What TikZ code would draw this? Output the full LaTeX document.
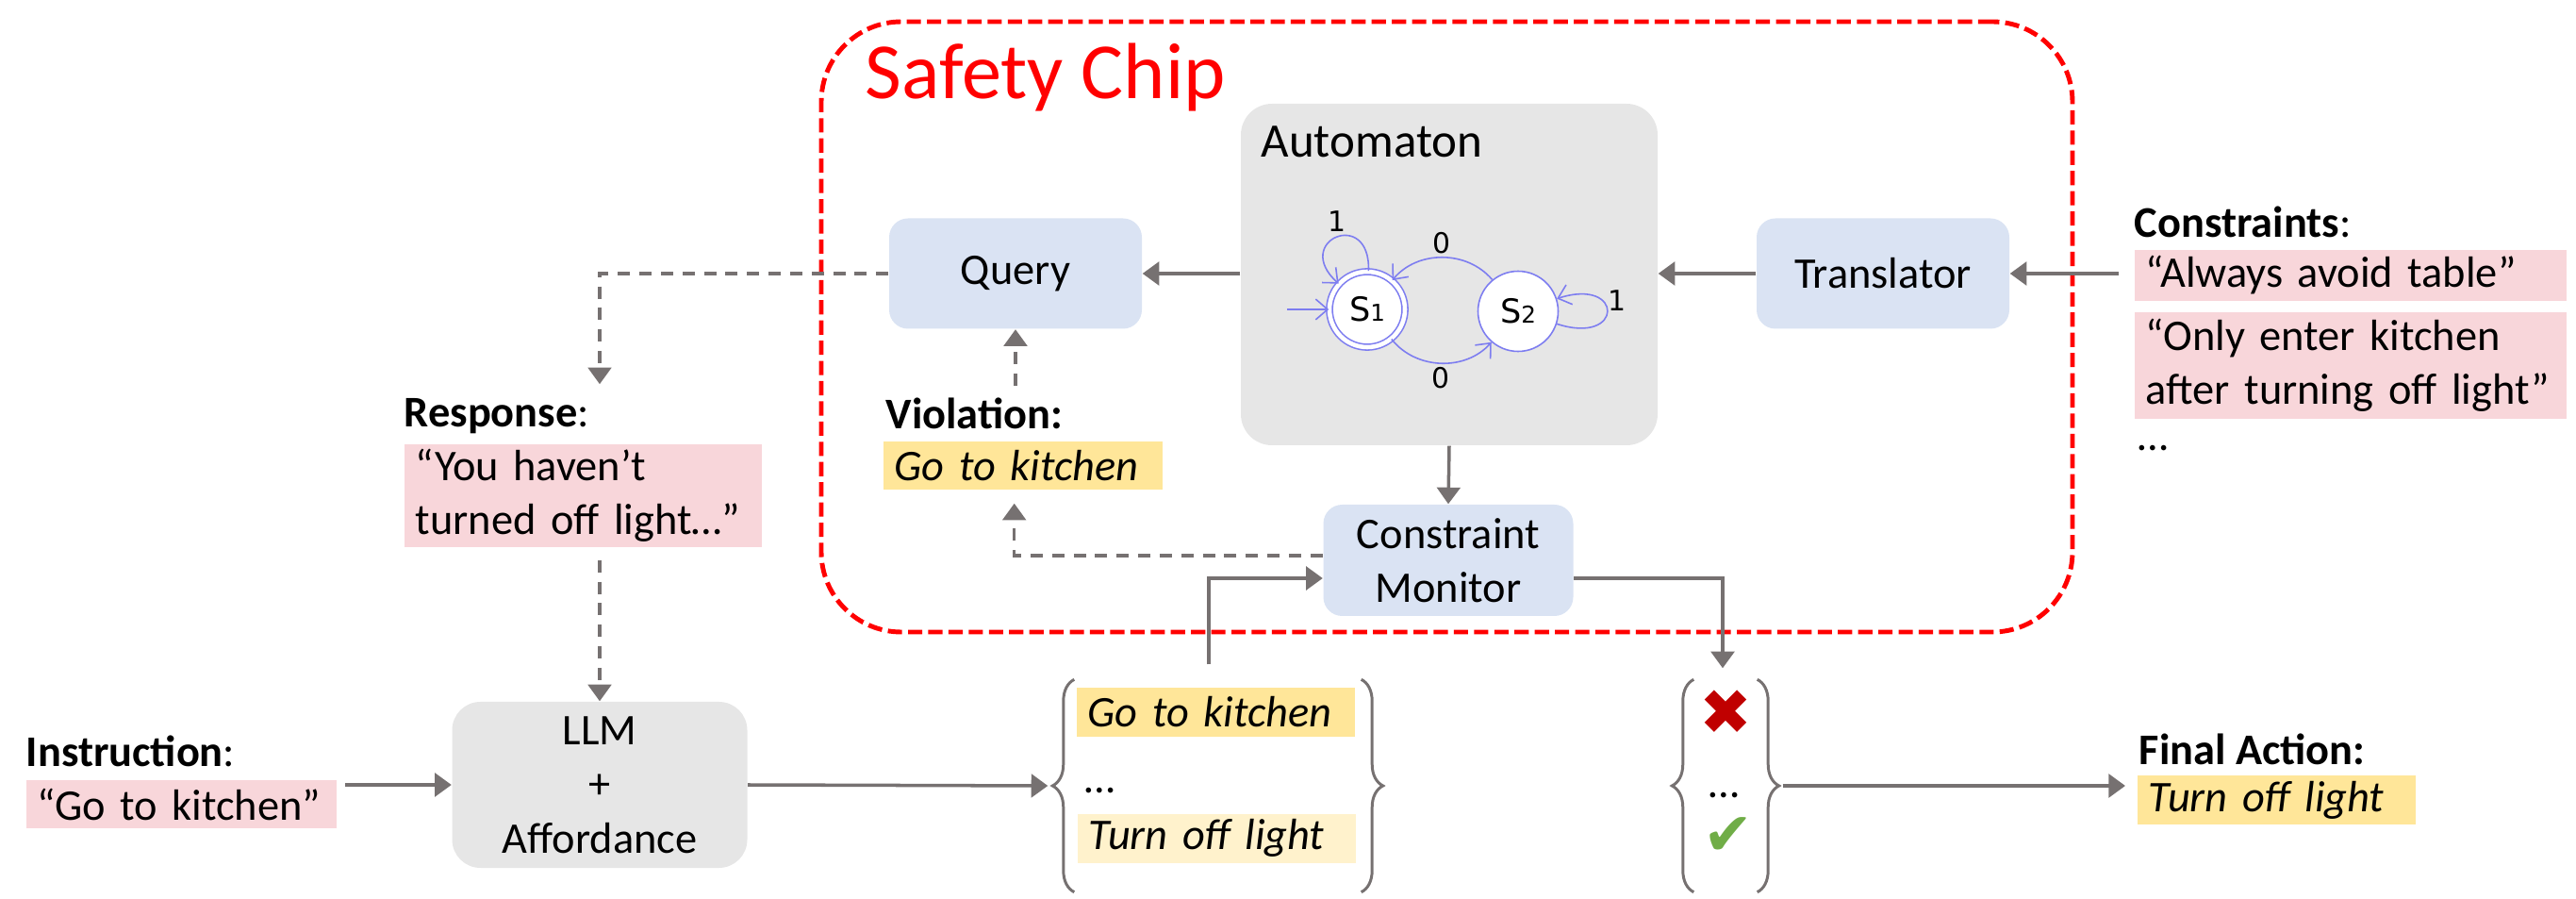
\documentclass[tikz,border=0pt]{standalone}
\usepackage{fontspec}
\setmainfont{Carlito}
\newfontfamily\autofamily{DejaVu Sans}
\newfontfamily\symfamily{DejaVu Sans}
\usetikzlibrary{arrows.meta,positioning,calc,decorations.pathreplacing}
\definecolor{chipred}{RGB}{255,0,0}
\definecolor{boxblue}{RGB}{218,227,243}
\definecolor{boxgray}{RGB}{230,230,230}
\definecolor{quotepink}{RGB}{248,214,218}
\definecolor{actyellow}{RGB}{255,230,153}
\definecolor{actlight}{RGB}{255,242,204}
\definecolor{linegray}{RGB}{118,113,113}
\definecolor{autoblue}{RGB}{125,125,240}
\definecolor{xred}{RGB}{192,0,0}
\definecolor{tickgreen}{RGB}{112,173,71}

\begin{document}
\begin{tikzpicture}[
    font=\fontsize{13.2}{16.3}\selectfont,
    chipbox/.style={rectangle, rounded corners=0.2cm, fill=boxblue, minimum width=2.68cm, minimum height=1.17cm, align=center},
    graybox/.style={rectangle, rounded corners=0.3cm, fill=boxgray, align=center},
    quotebox/.style={rectangle, fill=quotepink, anchor=west, align=left, inner xsep=0.12cm, inner ysep=0pt},
    actbox/.style={quotebox, fill=actyellow, font=\fontsize{13.2}{16.3}\selectfont\itshape},
    heading/.style={anchor=base west, inner sep=0pt},
    autostate/.style={circle, draw=autoblue, fill=white, line width=0.45pt, minimum size=0.85cm, inner sep=0pt, font=\autofamily\fontsize{10}{11}\selectfont},
    finalstate/.style={double=white, double distance=1.3pt, minimum size=0.8cm},
    autoedge/.style={-{Straight Barb[length=3.6pt, width=6.2pt]}, draw=autoblue, line width=0.45pt},
    autolabel/.style={font=\autofamily\fontsize{8.5}{9}\selectfont, inner sep=1pt},
    arrow/.style={-{Triangle[width=7pt, length=5pt]}, draw=linegray, line width=1pt},
    dasharrow/.style={arrow, line width=0.9pt, dash pattern=on 3.7pt off 2.8pt},
    bracket/.style={decorate, decoration={brace, amplitude=0.23cm}, draw=linegray, line width=0.85pt}
]
\useasboundingbox (0, 0) rectangle (27.32, 9.52);

% Safety Chip frame
\node[draw=chipred, line width=1.4pt, dash pattern=on 4.3pt off 1.8pt, rounded corners=0.85cm, minimum width=13.27cm, minimum height=6.47cm] (chip) at (15.345, 6.055) {};
\node[heading, text=chipred, font=\fontsize{24}{28}\selectfont] (chiptitle) at (9.17, 8.47) {Safety Chip};

% Automaton
\node[graybox, rounded corners=0.33cm, minimum width=4.42cm, minimum height=3.62cm] (auto) at (15.37, 6.61) {};
\node[heading, font=\fontsize{14.5}{17}\selectfont] (autotitle) at (13.37, 7.85) {Automaton};
\node[autostate, finalstate] (s1) at (14.50, 6.24) {S{\fontsize{7}{8}\selectfont 1}};
\node[autostate] (s2) at (16.10, 6.22) {S{\fontsize{7}{8}\selectfont 2}};
\coordinate (init) at (13.65, 6.24);
\draw[autoedge] (init) -- (s1);
\draw[autoedge] (s1) to[out=88, in=138, distance=0.68cm] node[autolabel, pos=0.35, above left] {1} (s1);
\draw[autoedge] (s2) to[bend right=50] node[autolabel, above] {0} (s1);
\draw[autoedge] (s1) to[bend right=50] node[autolabel, below] {0} (s2);
\draw[autoedge] (s2) to[out=-18, in=18, distance=0.75cm] node[autolabel, pos=0.5, above right, inner sep=0pt] {1} (s2);

% Chip modules
\node[chipbox] (query) at (10.77, 6.62) {Query};
\node[chipbox] (trans) at (19.97, 6.62) {Translator};
\node[chipbox, minimum width=2.65cm, minimum height=1.18cm] (monitor) at (15.36, 3.58) {Constraint\\Monitor};

% Violation
\node[heading] (viollbl) at (9.39, 4.97) {\textbf{Violation:}};
\node[actbox, minimum height=0.51cm, text width=2.72cm] (viol) at (9.36, 4.585) {Go to kitchen};

% Constraints
\node[heading] (conslbl) at (22.63, 7.00) {\textbf{Constraints}:};
\node[quotebox, minimum height=0.54cm, text width=4.34cm] (cons1) at (22.63, 6.60) {“Always avoid table”};
\node[quotebox, minimum height=1.13cm, text width=4.34cm] (cons2) at (22.63, 5.645) {“Only enter kitchen\\after turning off light”};
\node[heading] (consdots) at (22.67, 4.74) {…};

% Response
\node[heading] (resplbl) at (4.28, 4.99) {\textbf{Response}:};
\node[quotebox, minimum height=1.09cm, text width=3.55cm] (resp) at (4.28, 4.265) {“You haven’t\\turned off light…”};

% Instruction and planner
\node[heading] (instlbl) at (0.27, 1.39) {\textbf{Instruction}:};
\node[quotebox, minimum height=0.51cm, text width=3.05cm] (inst) at (0.27, 0.995) {“Go to kitchen”};
\node[graybox, minimum width=3.13cm, minimum height=1.76cm] (llm) at (6.36, 1.20) {LLM\\+\\Affordance};

% Candidate actions
\node[minimum width=3.03cm, minimum height=2.24cm] (list1) at (12.915, 1.19) {};
\node[actbox, minimum height=0.52cm, text width=2.71cm] (cand1) at (11.41, 1.97) {Go to kitchen};
\node[heading] (canddots) at (11.50, 1.12) {…};
\node[actbox, fill=actlight, minimum height=0.52cm, text width=2.71cm] (cand2) at (11.42, 0.635) {Turn off light};
\draw[bracket] (list1.south west) -- (list1.north west);
\draw[bracket] (list1.north east) -- (list1.south east);

% Verdicts
\node[minimum width=0.66cm, minimum height=2.24cm] (list2) at (18.30, 1.19) {};
\node[text=xred, font=\symfamily\fontsize{19}{21}\selectfont] (cross) at (18.30, 1.97) {✖};
\node[heading] (verdots) at (18.12, 1.06) {…};
\node[text=tickgreen, font=\symfamily\fontsize{18}{20}\selectfont] (tick) at (18.33, 0.65) {✔};
\draw[bracket] (list2.south west) -- (list2.north west);
\draw[bracket] (list2.north east) -- (list2.south east);

% Final action
\node[heading] (finallbl) at (22.68, 1.42) {\textbf{Final Action:}};
\node[actbox, minimum height=0.52cm, text width=2.71cm] (final) at (22.66, 1.04) {Turn off light};

% Arrows - main pipeline
\draw[arrow] ($(inst.east |- llm.west)+(0.09,0)$) -- (llm.west);
\draw[arrow] (llm.east) -- ($(list1.west)+(-0.28,0)$);
\draw[arrow] ($(list1.north)+(-0.095,0.16)$) |- ($(monitor.west)+(0,-0.19)$);
\draw[arrow] ($(monitor.east)+(0,-0.19)$) -| ($(list2.north)+(-0.03,0.12)$);
\draw[arrow] ($(list2.east)+(0.27,0)$) -- ($(final.west |- list2.east)+(-0.12,0)$);

% Arrows - inside the chip
\draw[arrow] (auto.west |- query.east) -- (query.east);
\draw[arrow] (trans.west) -- (auto.east |- trans.west);
\draw[arrow] ($(trans.east -| cons1.west)+(-0.16,0)$) -- (trans.east);
\draw[arrow] (auto.south) -- (monitor.north);

% Arrows - feedback
\draw[dasharrow] (query.west) -| ($(llm.north |- resplbl.north)+(0,0.15)$);
\draw[dasharrow] ($(llm.north |- resp.south)+(0,-0.13)$) -- (llm.north);
\draw[dasharrow] ($(query.south |- viollbl.north)+(0,0.13)$) -- (query.south);
\draw[dasharrow] ($(monitor.west)+(0,0.05)$) -| ($(viol.south)+(-0.09,-0.14)$);

\end{tikzpicture}
\end{document}
